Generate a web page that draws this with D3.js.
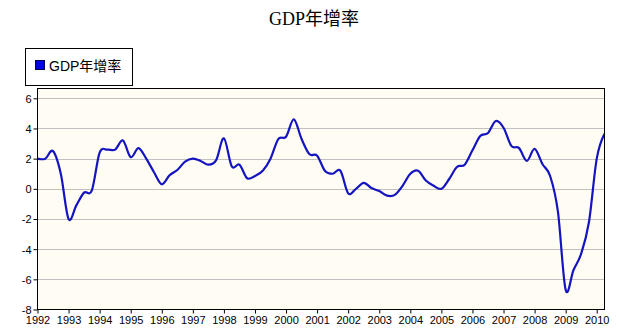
<!DOCTYPE html>
<html><head><meta charset="utf-8">
<script src="https://cdn.jsdelivr.net/npm/d3@7"></script>
<style>
html,body{margin:0;padding:0;background:#fff;}
svg{display:block;}
</style>
</head><body>
<svg id="c" width="619" height="334"></svg>
<script>
const title = "GDP年增率";
const seriesName = "GDP年增率";
const startYear = 1992;          // first quarter of the series (1992 Q1)
const gdpGrowth = [
  2.0, 2.0, 2.5, 1.0,
  -2.0, -1.1, -0.25, -0.1,
  2.4, 2.6, 2.6, 3.2,
  2.1, 2.7, 2.0, 1.1,
  0.3, 0.9, 1.25, 1.8,
  2.0, 1.85, 1.6, 1.9,
  3.35, 1.5, 1.6, 0.7,
  0.85, 1.2, 2.0, 3.3,
  3.45, 4.6, 3.3, 2.3,
  2.2, 1.2, 1.0, 1.2,
  -0.3, 0.0, 0.4, 0.05,
  -0.15, -0.45, -0.4, 0.2,
  1.0, 1.2, 0.55, 0.2,
  0.0, 0.65, 1.45, 1.6,
  2.55, 3.5, 3.7, 4.5,
  4.05, 2.85, 2.7, 1.85,
  2.65, 1.65, 0.85, -1.5,
  -6.7, -5.4, -4.3, -2.2,
  2.0, 3.65
];
const xTicks = [1992,1993,1994,1995,1996,1997,1998,1999,2000,2001,2002,2003,2004,2005,2006,2007,2008,2009,2010];
const yTicks = [-8,-6,-4,-2,0,2,4,6];

const data = gdpGrowth.map((v,i)=>({t: startYear + i*0.25, v}));

const svg = d3.select("#c");
const L = 37.5, R = 604.5, T = 88.5, B = 309.5;
const x = d3.scaleLinear().domain([1992, 2010.25]).range([L, R]);
const y = d3.scaleLinear().domain([-8, 6.65]).range([B, T]);

// title
svg.append("text").attr("x", 314).attr("y", 25).attr("text-anchor","middle")
  .attr("font-family","'Liberation Serif','Noto Sans CJK TC',serif").attr("font-size",18)
  .attr("fill","#000").text(title);

// legend
const lg = svg.append("g");
lg.append("rect").attr("x",25.5).attr("y",48.5).attr("width",107).attr("height",37)
  .attr("fill","#fff").attr("stroke","#000").attr("stroke-width",1);
lg.append("rect").attr("x",35.5).attr("y",60.5).attr("width",9).attr("height",9)
  .attr("fill","#0000e8").attr("stroke","#000050").attr("stroke-width",1);
lg.append("text").attr("x",49).attr("y",71)
  .attr("font-family","'Liberation Sans','Noto Sans CJK TC',sans-serif").attr("font-size",14)
  .attr("fill","#000").text(seriesName);

// plot background
svg.append("rect").attr("x",L).attr("y",T).attr("width",R-L).attr("height",B-T)
  .attr("fill","#fffdf3");

// gridlines
svg.append("g").selectAll("line").data(yTicks.filter(d=>d>-8)).join("line")
  .attr("x1",L).attr("x2",R)
  .attr("y1",d=>Math.round(y(d))+0.5).attr("y2",d=>Math.round(y(d))+0.5)
  .attr("stroke","#c0c0c0").attr("stroke-width",1);

// axes
const yAxis = d3.axisLeft(y).tickValues(yTicks).tickSize(4).tickPadding(2).tickFormat(d=>String(d));
const gy = svg.append("g").attr("transform",`translate(${L},0)`).call(yAxis);
const xAxis = d3.axisBottom(x).tickValues(xTicks).tickSize(4).tickPadding(3).tickFormat(d=>String(d));
const gx = svg.append("g").attr("transform",`translate(0,${B})`).call(xAxis);
[gx,gy].forEach(g=>{
  g.select(".domain").remove();
  g.selectAll("line").attr("stroke","#000");
  g.selectAll("text").attr("font-family","'Liberation Sans',Arial,sans-serif").attr("font-size",11).attr("fill","#000");
});
gy.selectAll("text").attr("dy","0.35em");

// line
const line = d3.line().x(d=>x(d.t)).y(d=>y(d.v)).curve(d3.curveCardinal.tension(0));
svg.append("defs").append("clipPath").attr("id","clip").append("rect")
  .attr("x",L).attr("y",T).attr("width",R-L).attr("height",B-T);
svg.append("path").datum(data).attr("d",line).attr("fill","none")
  .attr("stroke","#1414c0").attr("stroke-width",2.2).attr("stroke-linejoin","round")
  .attr("clip-path","url(#clip)");

// plot border
svg.append("rect").attr("x",L).attr("y",T).attr("width",R-L).attr("height",B-T)
  .attr("fill","none").attr("stroke","#000").attr("stroke-width",1);
</script>
</body></html>
